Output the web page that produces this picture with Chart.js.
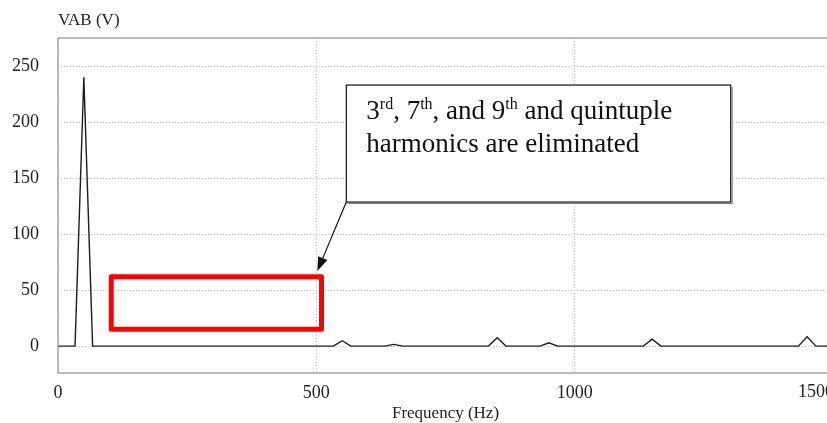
<!DOCTYPE html>
<html>
<head>
<meta charset="utf-8">
<script src="https://cdn.jsdelivr.net/npm/chart.js@4.4.0/dist/chart.umd.min.js"></script>
<style>
  html, body { margin: 0; padding: 0; background: #fff; overflow: hidden; }
  #wrap { width: 836px; height: 423px; }
</style>
</head>
<body>
<div id="wrap"><canvas id="spectrum" width="836" height="423"></canvas></div>
<script>
// harmonic spectrum of VAB
const freqHz = [0, 33, 50, 67, 533, 550, 567, 633, 650, 667, 833, 850, 867, 933, 950, 967, 1133, 1150, 1167, 1433, 1450, 1467, 1600];
const vabVolts = [0, 0, 240, 0, 0, 4.8, 0, 0, 1.5, 0, 0, 7.4, 0, 0, 3, 0, 0, 6.2, 0, 0, 8.3, 0, 0];

const xTicks = [0, 500, 1000, 1500];
const yTicks = [0, 50, 100, 150, 200, 250];

const yTitle = "VAB (V)";
const xTitle = "Frequency (Hz)";
const noteLines = [
  [["3", 0], ["rd", 1], [", 7", 0], ["th", 1], [", and 9", 0], ["th", 1], [" and quintuple", 0]],
  [["harmonics are eliminated", 0]],
];

// annotation placement in data units
const redBox = { x0: 103, x1: 510, y0: 15, y1: 62 };
const noteBox = { x0: 558, x1: 1302, y0: 128.6, y1: 233 };
const arrowTip = { x: 502, y: 67 };

const serif = '"Liberation Serif", "Times New Roman", serif';
const tickFont = { family: serif, size: 18 };

const overlay = {
  id: "overlay",
  afterDraw(chart) {
    const { ctx, chartArea: a, scales: { x, y } } = chart;
    ctx.save();

    // plot frame
    ctx.strokeStyle = "#a4a4a4";
    ctx.lineWidth = 1.5;
    ctx.strokeRect(a.left, a.top, a.right - a.left, a.bottom - a.top);

    // axis titles
    ctx.fillStyle = "#222";
    ctx.font = "17px " + serif;
    ctx.textBaseline = "alphabetic";
    ctx.textAlign = "left";
    ctx.fillText(yTitle, a.left, 25);
    ctx.textAlign = "center";
    ctx.fillText(xTitle, (a.left + a.right) / 2, 418);

    // last x tick label is pulled in to end at the axis edge
    const lastTick = xTicks[xTicks.length - 1];
    ctx.font = "18px " + serif;
    ctx.textAlign = "right";
    ctx.fillText(String(lastTick), x.getPixelForValue(lastTick) + 1, 397);

    // red highlight box
    const rx0 = x.getPixelForValue(redBox.x0), rx1 = x.getPixelForValue(redBox.x1);
    const ry0 = y.getPixelForValue(redBox.y1), ry1 = y.getPixelForValue(redBox.y0);
    ctx.strokeStyle = "#ff0000";
    ctx.lineWidth = 5;
    ctx.lineJoin = "round";
    ctx.strokeRect(rx0, ry0, rx1 - rx0, ry1 - ry0);

    // callout box
    const bx0 = x.getPixelForValue(noteBox.x0), bx1 = x.getPixelForValue(noteBox.x1);
    const by0 = y.getPixelForValue(noteBox.y1), by1 = y.getPixelForValue(noteBox.y0);
    ctx.lineJoin = "miter";
    ctx.fillStyle = "#fff";
    ctx.fillRect(bx0, by0, bx1 - bx0, by1 - by0);
    ctx.strokeStyle = "#777";
    ctx.lineWidth = 1;
    ctx.beginPath();
    ctx.moveTo(bx1 + 1.5, by0 + 2);
    ctx.lineTo(bx1 + 1.5, by1 + 1.5);
    ctx.lineTo(bx0 + 2, by1 + 1.5);
    ctx.stroke();
    ctx.strokeStyle = "#111";
    ctx.lineWidth = 1.2;
    ctx.strokeRect(bx0, by0, bx1 - bx0, by1 - by0);

    // callout text with superscripts
    const size = 27;
    ctx.fillStyle = "#111";
    ctx.textAlign = "left";
    noteLines.forEach((line, i) => {
      let tx = bx0 + 20;
      const ty = by0 + 34 + i * 32.5;
      line.forEach(([txt, sup]) => {
        ctx.font = (sup ? Math.round(size * 0.58) : size) + "px " + serif;
        ctx.fillText(txt, tx, sup ? ty - size * 0.38 : ty);
        tx += ctx.measureText(txt).width;
      });
    });

    // arrow from callout to red box
    const tx = x.getPixelForValue(arrowTip.x), ty = y.getPixelForValue(arrowTip.y);
    const ang = Math.atan2(ty - by1, tx - bx0);
    const head = 14, half = 5;
    const hx = tx - head * Math.cos(ang), hy = ty - head * Math.sin(ang);
    ctx.strokeStyle = "#111";
    ctx.lineWidth = 1.2;
    ctx.beginPath();
    ctx.moveTo(bx0, by1);
    ctx.lineTo(hx, hy);
    ctx.stroke();
    ctx.fillStyle = "#111";
    ctx.beginPath();
    ctx.moveTo(tx, ty);
    ctx.lineTo(hx - half * Math.sin(ang), hy + half * Math.cos(ang));
    ctx.lineTo(hx + half * Math.sin(ang), hy - half * Math.cos(ang));
    ctx.closePath();
    ctx.fill();

    ctx.restore();
  },
};

new Chart(document.getElementById("spectrum"), {
  type: "line",
  data: {
    datasets: [
      {
        data: freqHz.map((f, i) => ({ x: f, y: vabVolts[i] })),
        borderColor: "#1c1c1c",
        borderWidth: 1.4,
        pointRadius: 0,
        tension: 0,
        fill: false,
      },
    ],
  },
  options: {
    responsive: false,
    animation: false,
    layout: { padding: { top: 38, right: 3, left: 0, bottom: 0 } },
    plugins: { legend: { display: false }, tooltip: { enabled: false } },
    scales: {
      x: {
        type: "linear",
        min: 0,
        max: 1500,
        afterBuildTicks(scale) {
          scale.ticks = xTicks.map((v) => ({ value: v }));
        },
        ticks: {
          padding: 9,
          color: "#222",
          font: tickFont,
          maxRotation: 0,
          callback: (v) => (v === xTicks[xTicks.length - 1] ? "" : String(v)),
        },
        grid: { color: "#c4c4c4", drawTicks: false },
        border: { display: false, dash: [1, 2] },
        afterFit(scale) {
          scale.height = 50;
          scale.paddingLeft = 0;
          scale.paddingRight = 0;
        },
      },
      y: {
        min: -24,
        max: 275,
        afterBuildTicks(scale) {
          scale.ticks = yTicks.map((v) => ({ value: v }));
        },
        ticks: {
          padding: 19,
          color: "#222",
          font: tickFont,
          callback: (v) => String(v),
        },
        grid: { color: "#c4c4c4", drawTicks: false },
        border: { display: false, dash: [1, 2] },
        afterFit(scale) {
          scale.width = 58;
          scale.paddingTop = 0;
          scale.paddingBottom = 0;
        },
      },
    },
  },
  plugins: [overlay],
});
</script>
</body>
</html>
